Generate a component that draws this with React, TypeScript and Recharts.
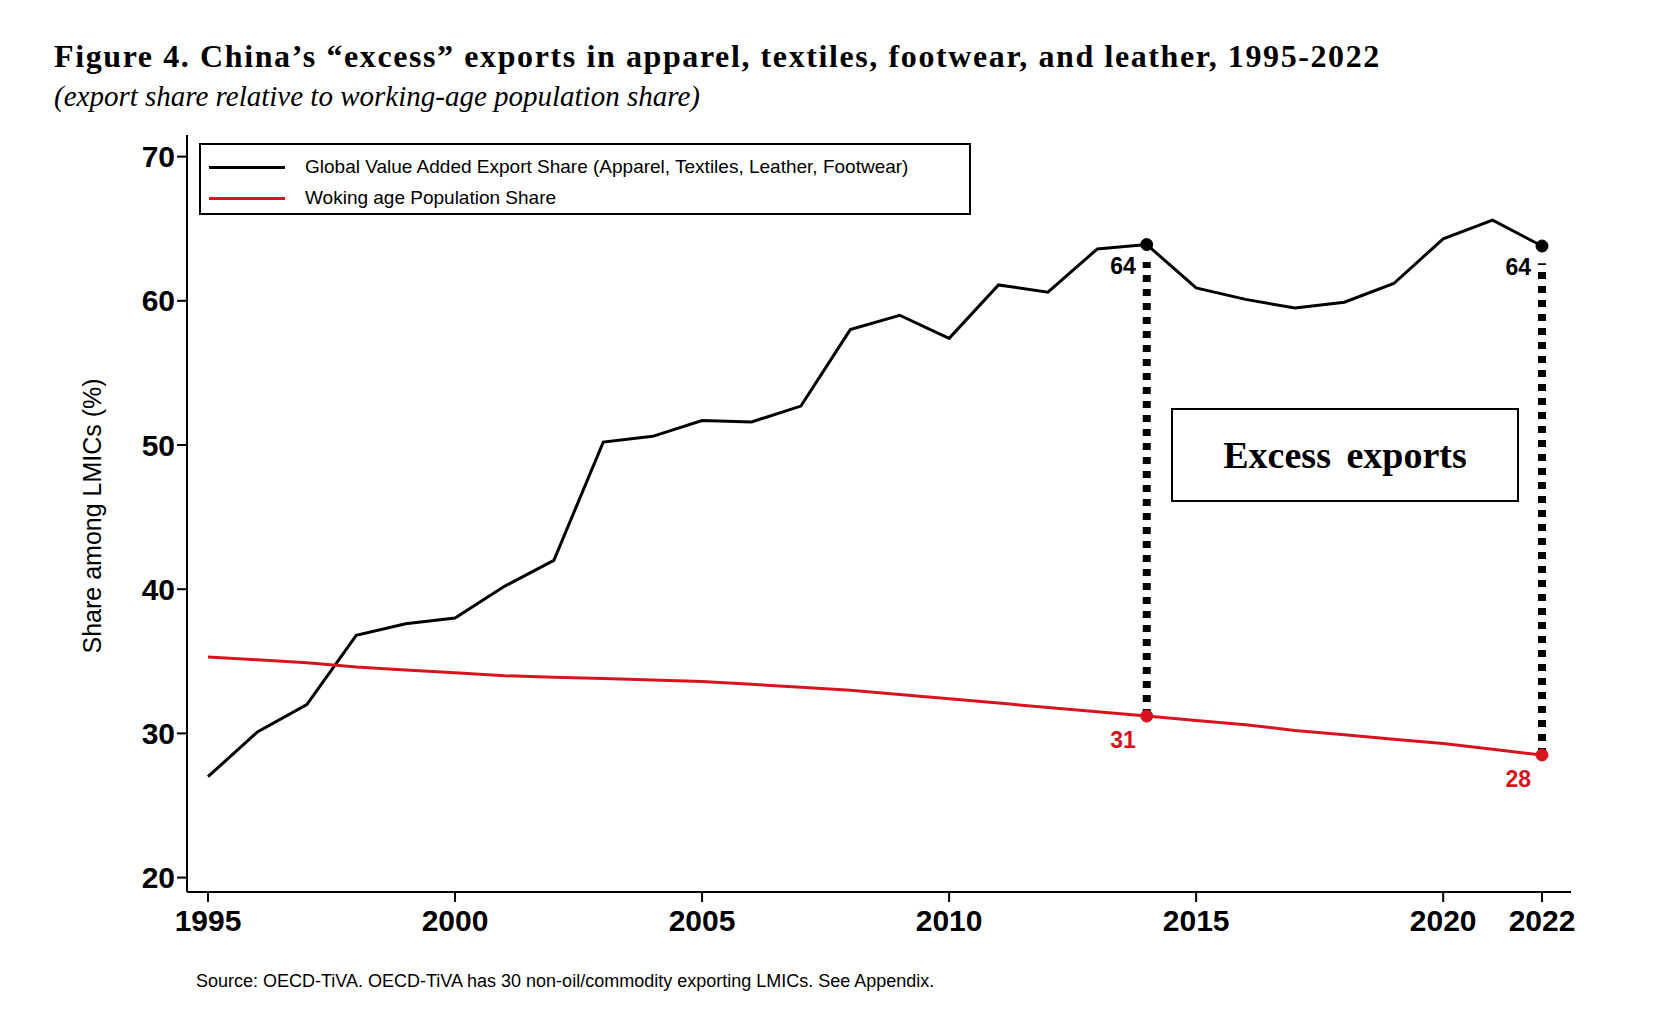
import React from 'react';
import { LineChart, Line, XAxis, YAxis, ReferenceLine, ReferenceDot } from 'recharts';

const years = [1995, 1996, 1997, 1998, 1999, 2000, 2001, 2002, 2003, 2004, 2005, 2006, 2007, 2008, 2009, 2010, 2011, 2012, 2013, 2014, 2015, 2016, 2017, 2018, 2019, 2020, 2021, 2022];
const exportShare = [27, 30.1, 32, 36.8, 37.6, 38, 40.2, 42, 50.2, 50.6, 51.7, 51.6, 52.7, 58, 59, 57.4, 61.1, 60.6, 63.6, 63.9, 60.9, 60.1, 59.5, 59.9, 61.2, 64.3, 65.6, 63.8];
const popShare = [35.3, 35.1, 34.9, 34.6, 34.4, 34.2, 34.0, 33.9, 33.8, 33.7, 33.6, 33.4, 33.2, 33.0, 32.7, 32.4, 32.1, 31.8, 31.5, 31.2, 30.9, 30.6, 30.2, 29.9, 29.6, 29.3, 28.9, 28.5];
const xTicks = [1995, 2000, 2005, 2010, 2015, 2020, 2022];
const yTicks = [20, 30, 40, 50, 60, 70];
const marks = [
  { year: 2014, exp: 64, pop: 31, expY: 63.9, popY: 31.2 },
  { year: 2022, exp: 64, pop: 28, expY: 63.8, popY: 28.5 },
];

const data = years.map((y, i) => ({ year: y, exp: exportShare[i], pop: popShare[i] }));
const RED = '#d7141e';
const sans = 'Arial, "Liberation Sans", sans-serif';
const serif = '"Liberation Serif", "DejaVu Serif", serif';

export default function App() {
  return (
    <div style={{ position: 'relative', width: 1650, height: 1010, background: '#fff' }}>
      <div style={{ position: 'absolute', left: 46, top: 30, fontFamily: serif, fontWeight: 'bold', fontSize: 32, letterSpacing: 1.6 }}>
        Figure 4. China’s “excess” exports in apparel, textiles, footwear, and leather, 1995-2022
      </div>
      <div style={{ position: 'absolute', left: 46, top: 72, fontFamily: serif, fontStyle: 'italic', fontSize: 29 }}>
        (export share relative to working-age population share)
      </div>
      <LineChart width={1650} height={1000} data={data} margin={{ top: 127, left: 119, right: 87, bottom: 86 }}>
        <XAxis dataKey="year" type="number" domain={[1995, 2022]} ticks={xTicks} padding={{ left: 21, right: 29 }}
          height={30} tick={{ fill: '#000', fontSize: 30, fontFamily: sans, fontWeight: 'bold' }} tickSize={10}
          stroke="#000" strokeWidth={2} tickMargin={8} />
        <YAxis type="number" domain={[19, 71.5]} ticks={yTicks} width={60} allowDataOverflow
          tick={{ fill: '#000', fontSize: 30, fontFamily: sans, fontWeight: 'bold' }} tickSize={10} stroke="#000" strokeWidth={2}
          label={{ value: 'Share among LMICs (%)', angle: -90, position: 'insideLeft', dx: -40, dy: 140, style: { fontFamily: sans, fontSize: 25, fontWeight: 500, fill: '#000' } }} />
        {marks.map((m) => (
          <ReferenceLine key={m.year} segment={[{ x: m.year, y: m.popY }, { x: m.year, y: m.expY - 1.2 }]}
            stroke="#000" strokeWidth={8} strokeDasharray="7 7" />
        ))}
        <Line dataKey="exp" stroke="#000" strokeWidth={3} dot={false} isAnimationActive={false} />
        <Line dataKey="pop" stroke={RED} strokeWidth={3} dot={false} isAnimationActive={false} />
        {marks.map((m) => (
          <ReferenceDot key={'e' + m.year} x={m.year} y={m.expY} r={6} fill="#000" stroke="#000"
            label={{ value: String(m.exp), position: 'insideTopRight', dx: -12, dy: 14, style: { fontFamily: sans, fontSize: 23, fontWeight: 'bold', fill: '#000' } }} />
        ))}
        {marks.map((m) => (
          <ReferenceDot key={'p' + m.year} x={m.year} y={m.popY} r={6} fill={RED} stroke={RED}
            label={{ value: String(m.pop), position: 'insideTopRight', dx: -12, dy: 17, style: { fontFamily: sans, fontSize: 23, fontWeight: 'bold', fill: RED } }} />
        ))}
      </LineChart>
      <div style={{ position: 'absolute', left: 191, top: 135, width: 768, height: 68, border: '2px solid #000', fontFamily: sans, fontSize: 19, fontWeight: 500, background: '#fff' }}>
        <div style={{ position: 'absolute', left: 8, top: 11, display: 'flex', alignItems: 'center' }}>
          <span style={{ display: 'inline-block', width: 76, height: 3, background: '#000', marginRight: 20 }} />Global Value Added Export Share (Apparel, Textiles, Leather, Footwear)
        </div>
        <div style={{ position: 'absolute', left: 8, top: 42, display: 'flex', alignItems: 'center' }}>
          <span style={{ display: 'inline-block', width: 76, height: 3, background: RED, marginRight: 20 }} />Woking age Population Share
        </div>
      </div>
      <div style={{ position: 'absolute', left: 1163, top: 400, width: 344, height: 90, border: '2px solid #000', display: 'flex', alignItems: 'center', justifyContent: 'center', fontFamily: serif, fontWeight: 'bold', fontSize: 38, wordSpacing: 6, background: '#fff' }}>
        Excess exports
      </div>
      <div style={{ position: 'absolute', left: 188, top: 963, fontFamily: sans, fontSize: 18, fontWeight: 500 }}>
        Source: OECD-TiVA. OECD-TiVA has 30 non-oil/commodity exporting LMICs. See Appendix.
      </div>
    </div>
  );
}
